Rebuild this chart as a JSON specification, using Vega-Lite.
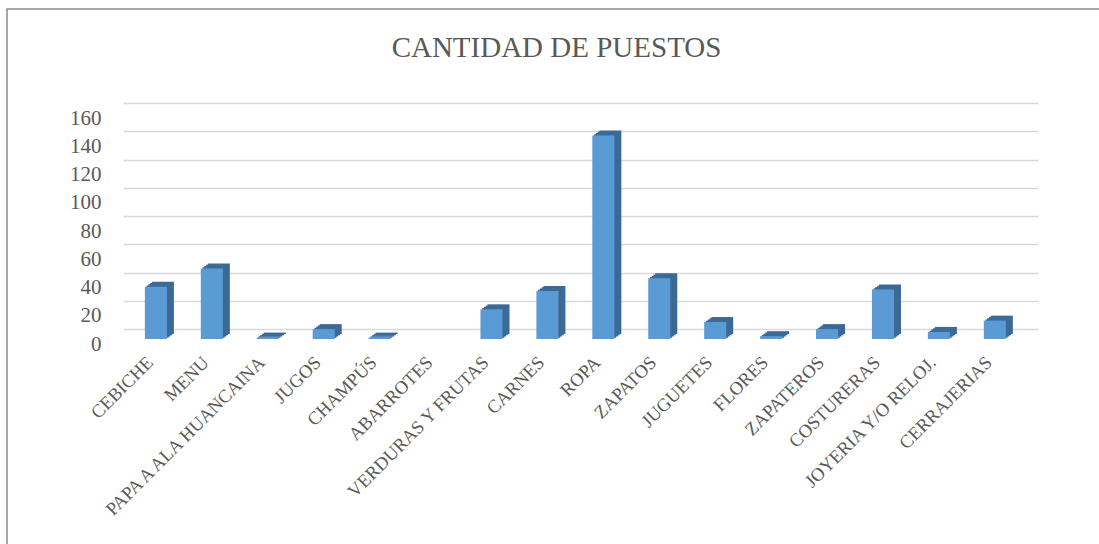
{
  "$schema": "https://vega.github.io/schema/vega-lite/v6.json",
  "width": 1095,
  "height": 538,
  "autosize": {"type": "none"},
  "padding": {"left": 7, "top": 9, "right": 0, "bottom": 0},
  "background": "white",
  "title": {
    "text": "CANTIDAD DE PUESTOS",
    "anchor": "middle",
    "frame": "group",
    "font": "Liberation Serif",
    "fontSize": 29,
    "fontWeight": "normal",
    "color": "#595959",
    "offset": 0,
    "baseline": "alphabetic",
    "dy": 77,
    "dx": 2
  },
  "config": {"view": {"stroke": "#8c8c8c", "strokeWidth": 1.5}},
  "data": {
    "values": [
      {"puesto": "CEBICHE", "cantidad": 37},
      {"puesto": "MENU", "cantidad": 50},
      {"puesto": "PAPA A ALA HUANCAINA", "cantidad": 1},
      {"puesto": "JUGOS", "cantidad": 7},
      {"puesto": "CHAMPÚS", "cantidad": 1},
      {"puesto": "ABARROTES", "cantidad": 0},
      {"puesto": "VERDURAS Y FRUTAS", "cantidad": 21},
      {"puesto": "CARNES", "cantidad": 34},
      {"puesto": "ROPA", "cantidad": 144},
      {"puesto": "ZAPATOS", "cantidad": 43},
      {"puesto": "JUGUETES", "cantidad": 12},
      {"puesto": "FLORES", "cantidad": 2},
      {"puesto": "ZAPATEROS", "cantidad": 7},
      {"puesto": "COSTURERAS", "cantidad": 35},
      {"puesto": "JOYERIA Y/O RELOJ.", "cantidad": 5},
      {"puesto": "CERRAJERIAS", "cantidad": 13}
    ]
  },
  "encoding": {
    "x": {
      "field": "puesto",
      "type": "nominal",
      "sort": null,
      "scale": {"range": [116, 1031], "paddingInner": 0.606, "paddingOuter": 0.483, "align": 0.59},
      "axis": {
        "title": null,
        "orient": "bottom",
        "offset": -218,
        "domain": false,
        "ticks": false,
        "labelAngle": -45,
        "labelAlign": "right",
        "labelBaseline": "middle",
        "labelPadding": 30,
        "labelOffset": -16,
        "labelFont": "Liberation Serif",
        "labelFontSize": 18.5,
        "labelColor": "#595959",
        "labelLimit": 0,
        "labelOverlap": false
      }
    },
    "y": {
      "field": "cantidad",
      "type": "quantitative",
      "scale": {"domain": [0, 160], "range": [320, 94], "nice": false},
      "axis": {
        "title": null,
        "values": [0, 20, 40, 60, 80, 100, 120, 140, 160],
        "grid": false,
        "domain": false,
        "ticks": true,
        "tickSize": -915,
        "tickColor": "#D9D9D9",
        "tickWidth": 1.4,
        "offset": -116,
        "labelPadding": 937,
        "labelOffset": 15,
        "labelFont": "Liberation Serif",
        "labelFontSize": 21,
        "labelColor": "#595959"
      }
    }
  },
  "layer": [
    {"mark": {"type": "bar", "color": "#3C6A96", "xOffset": -3, "x2Offset": -3, "yOffset": 5, "y2Offset": 5}},
    {"mark": {"type": "bar", "color": "#3C6A96", "xOffset": -4.75, "x2Offset": -4.75, "yOffset": 6.25, "y2Offset": 6.25}},
    {"mark": {"type": "bar", "color": "#3C6A96", "xOffset": -6.5, "x2Offset": -6.5, "yOffset": 7.5, "y2Offset": 7.5}},
    {"mark": {"type": "bar", "color": "#3C6A96", "xOffset": -8.25, "x2Offset": -8.25, "yOffset": 8.75, "y2Offset": 8.75}},
    {"mark": {"type": "bar", "color": "#5B9BD5", "xOffset": -10, "x2Offset": -10, "yOffset": 10, "y2Offset": 10}}
  ]
}
